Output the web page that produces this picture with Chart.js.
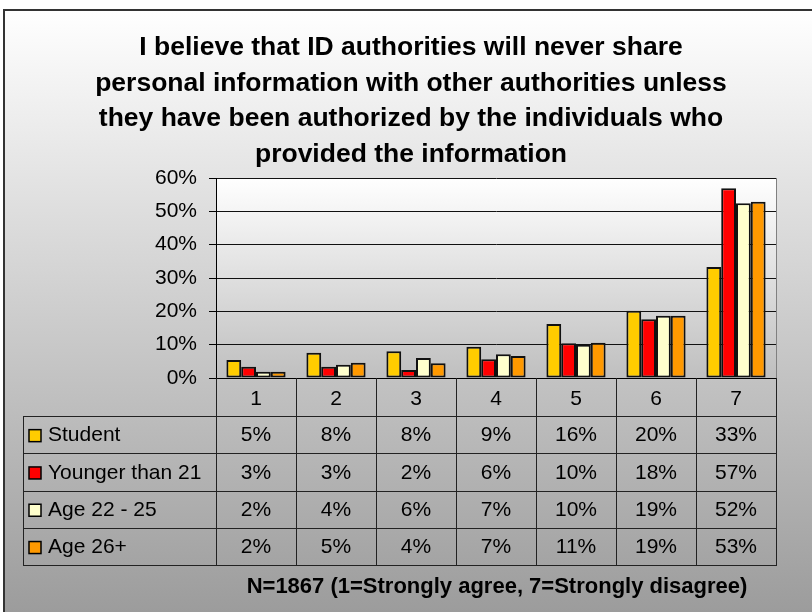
<!DOCTYPE html>
<html>
<head>
<meta charset="utf-8">
<script src="https://cdn.jsdelivr.net/npm/chart.js@4.4.1/dist/chart.umd.min.js"></script>
<style>
html, body { margin: 0; padding: 0; background: #fff; }
canvas { display: block; }
</style>
</head>
<body>
<canvas id="chart" width="812" height="612"></canvas>
<script>
const categories = ['1', '2', '3', '4', '5', '6', '7']

const student = [5.4, 7.6, 8.0, 9.4, 16.2, 20.2, 33.3]
const youngerThan21 = [3.4, 3.4, 2.4, 5.6, 10.4, 17.6, 56.9]
const age22to25 = [1.9, 4.0, 6.0, 7.1, 10.0, 18.7, 52.4]
const age26plus = [1.9, 4.6, 4.4, 6.6, 10.6, 18.7, 52.9]

const seriesNames = ['Student', 'Younger than 21', 'Age 22 - 25', 'Age 26+']
const seriesColors = ['#FFCC00', '#FF0000', '#FFFFCC', '#FF9900']

const titleLines = [
    'I believe that ID authorities will never share',
    'personal information with other authorities unless',
    'they have been authorized by the individuals who',
    'provided the information'
]
const footerText = 'N=1867 (1=Strongly agree, 7=Strongly disagree)'

const FONT = "'Liberation Sans', Arial, sans-serif"

// background, outer frame, title, data table drawn around the chart
const excelLook = {
    id: 'excelLook',
    beforeDraw(chart) {
        const { ctx, width, height, chartArea: a } = chart
        ctx.save()
        ctx.fillStyle = '#fff'
        ctx.fillRect(0, 0, width, height)
        let g = ctx.createLinearGradient(0, 10, 0, height)
        g.addColorStop(0, '#ffffff')
        g.addColorStop(1, '#9c9c9c')
        ctx.fillStyle = g
        ctx.fillRect(4, 10, width, height)
        ctx.strokeStyle = '#333'
        ctx.lineWidth = 2
        ctx.beginPath()
        ctx.moveTo(4, height + 5)
        ctx.lineTo(4, 10)
        ctx.lineTo(width + 5, 10)
        ctx.stroke()

        g = ctx.createLinearGradient(0, a.top, 0, a.bottom)
        g.addColorStop(0, '#ffffff')
        g.addColorStop(1, '#bfbfbf')
        ctx.fillStyle = g
        ctx.fillRect(a.left, a.top, a.right - a.left, a.bottom - a.top)
        ctx.restore()
    },
    afterDraw(chart) {
        const { ctx, chartArea: a } = chart
        const x = chart.scales.x
        const n = categories.length
        const edges = []
        for (let i = 0; i <= n; i++) {
            if (i === 0) edges.push(a.left)
            else if (i === n) edges.push(a.right)
            else edges.push((x.getPixelForTick(i - 1) + x.getPixelForTick(i)) / 2)
        }
        const headH = 38
        const rowH = 37.3
        const tableLeft = 23
        const rowsTop = a.bottom + headH
        const tableBottom = rowsTop + rowH * seriesNames.length

        ctx.save()
        // plot right border
        ctx.strokeStyle = '#808080'
        ctx.lineWidth = 1
        ctx.beginPath()
        ctx.moveTo(Math.round(a.right) + 0.5, a.top)
        ctx.lineTo(Math.round(a.right) + 0.5, a.bottom)
        ctx.stroke()

        ctx.strokeStyle = '#222'
        ctx.beginPath()
        edges.forEach((e) => {
            const xx = Math.round(e) + 0.5
            ctx.moveTo(xx, a.bottom)
            ctx.lineTo(xx, tableBottom)
        })
        ctx.moveTo(tableLeft + 0.5, rowsTop)
        ctx.lineTo(tableLeft + 0.5, tableBottom)
        for (let k = 0; k <= seriesNames.length; k++) {
            const yy = Math.round(rowsTop + k * rowH) + 0.5
            ctx.moveTo(tableLeft, yy)
            ctx.lineTo(a.right + 1, yy)
        }
        ctx.stroke()

        ctx.font = '21px ' + FONT
        ctx.textBaseline = 'middle'
        chart.data.datasets.forEach((ds, r) => {
            const cy = rowsTop + rowH * r + rowH / 2 + 1
            ctx.fillStyle = ds.backgroundColor
            ctx.fillRect(29, cy - 6, 12, 12)
            ctx.strokeStyle = '#000'
            ctx.lineWidth = 1.5
            ctx.strokeRect(29, cy - 6, 12, 12)
            ctx.fillStyle = '#000'
            ctx.textAlign = 'left'
            ctx.fillText(ds.label, 48, cy)
            ctx.textAlign = 'center'
            ds.data.forEach((v, i) => {
                ctx.fillText(Math.round(v) + '%', (edges[i] + edges[i + 1]) / 2, cy)
            })
        })

        ctx.fillStyle = '#000'
        ctx.textAlign = 'center'
        ctx.textBaseline = 'alphabetic'
        ctx.font = 'bold 26.5px ' + FONT
        titleLines.forEach((t, i) => ctx.fillText(t, 411, 55 + i * 35.5))
        ctx.font = 'bold 22px ' + FONT
        ctx.fillText(footerText, 497, 593)
        ctx.restore()
    }
}

const chart = new Chart(document.getElementById('chart').getContext('2d'), {
    type: 'bar',
    data: {
        labels: categories,
        datasets: [student, youngerThan21, age22to25, age26plus].map((d, i) => ({
            label: seriesNames[i],
            data: d,
            backgroundColor: seriesColors[i],
            borderColor: '#111',
            borderWidth: 2,
            borderSkipped: false,
            categoryPercentage: 0.74,
            barPercentage: 1.0
        }))
    },
    options: {
        responsive: false,
        animation: false,
        layout: {
            padding: { left: 100, right: 36, top: 178, bottom: 196 }
        },
        plugins: {
            legend: { display: false },
            title: { display: false },
            tooltip: { enabled: false }
        },
        scales: {
            x: {
                grid: { display: false, drawTicks: false },
                border: { color: '#000', width: 1 },
                ticks: { color: '#000', font: { family: FONT, size: 21 }, padding: 9 },
                afterFit: (s) => { s.height = 38 }
            },
            y: {
                min: 0,
                max: 60,
                ticks: {
                    stepSize: 10,
                    color: '#000',
                    padding: 12,
                    font: { family: FONT, size: 21 },
                    callback: (v) => v + '%'
                },
                grid: { color: '#111', tickLength: 7, tickColor: '#000' },
                border: { color: '#000', width: 1 },
                afterFit: (s) => { s.width = 116 }
            }
        }
    },
    plugins: [excelLook]
})
</script>
</body>
</html>
